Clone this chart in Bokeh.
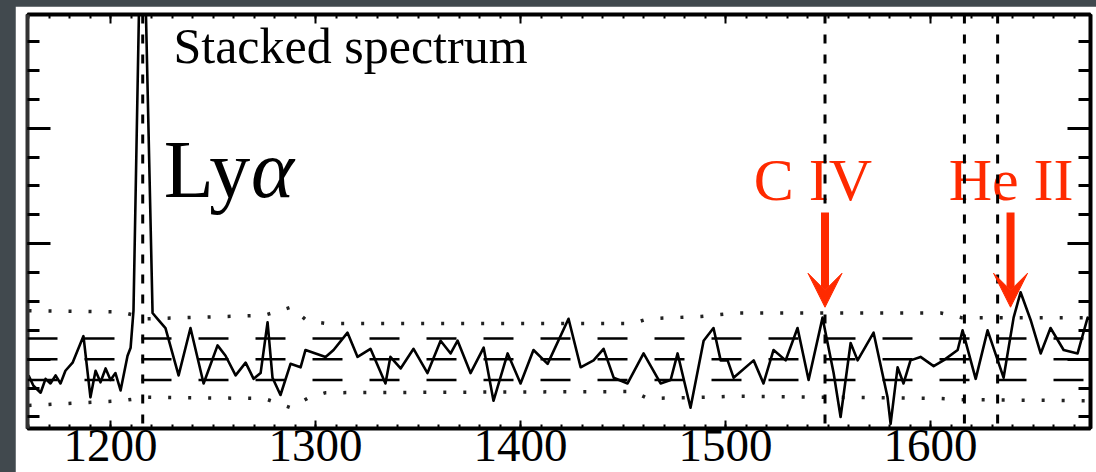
from bokeh.plotting import figure
from bokeh.models import (Range1d, LinearAxis, SingleIntervalTicker, CustomJSTickFormatter,
                          Arrow, VeeHead, Span)
from bokeh.core.properties import value
from bokeh.embed import file_html
from bokeh.resources import INLINE

# ---------------- data ----------------
wave = [1160.0, 1162.4, 1165.9, 1168.3, 1170.7, 1173.2, 1175.6, 1178.0, 1181.5, 1186.8,
        1190.2, 1192.7, 1195.1, 1197.6, 1200.0, 1202.4, 1204.9, 1208.3, 1209.8, 1211.2,
        1215.4, 1220.5, 1222.9, 1226.8, 1233.2, 1239.0, 1245.4, 1252.2, 1256.1, 1261.0,
        1265.9, 1269.8, 1273.2, 1276.6, 1279.0, 1282.9, 1287.8, 1292.7, 1295.1, 1300.0,
        1304.9, 1308.8, 1315.6, 1320.5, 1326.8, 1334.1, 1336.5, 1341.5, 1347.8, 1354.6,
        1361.0, 1365.9, 1369.3, 1375.6, 1382.0, 1386.8, 1393.7, 1400.0, 1406.3, 1413.2,
        1423.4, 1429.3, 1435.6, 1440.5, 1445.4, 1452.2, 1460.0, 1468.3, 1473.2, 1476.6,
        1482.9, 1489.3, 1494.1, 1497.6, 1501.0, 1503.9, 1513.7, 1518.5, 1523.4, 1529.3,
        1535.1, 1540.5, 1547.3, 1552.7, 1556.1, 1561.0, 1564.4, 1572.2, 1579.0, 1580.5,
        1583.9, 1586.8, 1590.2, 1595.1, 1601.5, 1606.3, 1613.2, 1615.6, 1622.0, 1627.8,
        1635.6, 1640.5, 1643.9, 1648.8, 1653.7, 1658.5, 1664.9, 1671.7, 1676.6, 1679.0]
flux = [-0.14, -0.23, -0.29, -0.17, -0.21, -0.14, -0.21, -0.10, -0.03, 0.20,
        -0.33, -0.10, -0.20, -0.08, -0.18, -0.12, -0.27, 0.03, 0.10, 0.42,
        4.50, 0.40, 0.35, 0.27, -0.14, 0.27, -0.21, 0.12, 0.03, -0.14,
        -0.03, -0.17, -0.12, 0.32, -0.16, -0.31, -0.04, -0.07, 0.08, 0.05,
        0.02, 0.08, 0.23, 0.02, 0.09, -0.21, 0.02, -0.08, 0.09, -0.12,
        0.16, 0.05, 0.16, -0.12, 0.10, -0.36, 0.05, -0.21, 0.08, -0.04,
        0.35, -0.07, -0.01, 0.09, -0.16, -0.21, 0.05, -0.21, -0.18, 0.05,
        -0.42, 0.16, 0.27, -0.01, -0.01, -0.16, -0.01, -0.21, 0.08, -0.01,
        0.27, -0.18, 0.36, -0.12, -0.50, 0.14, -0.01, 0.23, -0.33, -0.56,
        -0.07, -0.21, -0.01, 0.02, -0.06, -0.01, 0.08, 0.25, -0.17, 0.25,
        -0.16, 0.36, 0.58, 0.34, 0.05, 0.27, 0.08, 0.05, 0.36, 0.33]

sig_wave = [1160, 1205, 1218, 1275, 1288, 1296, 1305, 1455, 1462, 1488, 1505, 1605, 1615, 1678]
sig_hi = [0.42, 0.41, 0.35, 0.38, 0.45, 0.33, 0.31, 0.31, 0.35, 0.37, 0.40, 0.40, 0.36, 0.36]
sig_lo = [-0.40, -0.36, -0.33, -0.34, -0.42, -0.34, -0.29, -0.28, -0.34, -0.33, -0.32, -0.34, -0.35, -0.36]

levels = [0.18, 0.0, -0.18]                       # dashed horizontal levels
line_waves = [1215.7, 1548.5, 1616.5, 1632.7]     # dashed vertical line positions
arrow_waves = [1548.5, 1639.0]
arrow_labels = ["C IV", "He II"]
x_ticks_major = 100

RED = "#ff2a00"
FONT = "Liberation Serif"

p = figure(width=1081, height=466, output_backend="svg", toolbar_location=None,
           x_range=Range1d(1159.5, 1678.0), y_range=Range1d(-0.6, 2.985),
           min_border_left=12, min_border_right=6, min_border_top=8, min_border_bottom=44,
           background_fill_color="white", border_fill_color="white",
           outline_line_color="black", outline_line_width=3)
p.grid.visible = False
p.axis.visible = False

xt = SingleIntervalTicker(interval=x_ticks_major, num_minor_ticks=10)
yt = SingleIntervalTicker(interval=1, num_minor_ticks=4)
empty = CustomJSTickFormatter(code="return ''")

bottom = LinearAxis(ticker=xt, major_tick_in=8, major_tick_out=0, minor_tick_in=4, minor_tick_out=0,
                    axis_line_width=4, major_tick_line_width=2, minor_tick_line_width=2,
                    major_label_text_font=FONT, major_label_text_font_size="47px",
                    major_label_text_color="black", major_label_standoff=1)
top = LinearAxis(ticker=xt, formatter=empty, major_tick_in=9, major_tick_out=0, minor_tick_in=4,
                 minor_tick_out=0, axis_line_width=4, major_tick_line_width=2, minor_tick_line_width=2,
                 major_label_text_font_size="0px", major_label_standoff=0)
left = LinearAxis(ticker=yt, formatter=empty, major_tick_in=23, major_tick_out=0, minor_tick_in=12,
                  minor_tick_out=0, axis_line_width=4, axis_line_color="#333333",
                  major_tick_line_width=3, minor_tick_line_width=3,
                  major_label_text_font_size="0px", major_label_standoff=0)
right = LinearAxis(ticker=yt, formatter=empty, major_tick_in=23, major_tick_out=0, minor_tick_in=12,
                   minor_tick_out=0, axis_line_width=4, major_tick_line_width=3, minor_tick_line_width=3,
                   major_label_text_font_size="0px", major_label_standoff=0)
p.add_layout(bottom, "below")
p.add_layout(top, "above")
p.add_layout(left, "left")
p.add_layout(right, "right")

# dotted noise envelopes
p.line(sig_wave, sig_hi, line_color="#222222", line_width=3.5, line_dash="3 17")
p.line(sig_wave, sig_lo, line_color="#222222", line_width=3.5, line_dash="3 17")

# dashed horizontal levels
for lv in levels:
    p.add_layout(Span(location=lv, dimension="width", line_color="black", line_width=2.5,
                      line_dash="30 27"))

# spectrum
p.line(wave, flux, line_color="black", line_width=2.6, line_join="round")

# dashed vertical lines
for lw in line_waves:
    p.add_layout(Span(location=lw, dimension="height", line_color="black", line_width=3,
                      line_dash="9 11"))

# texts (y placed so that the rendered baseline matches the reference)
p.text(x=[1230.7], y=[2.708], text=["Stacked spectrum"], text_font=value(FONT),
       text_font_size="50px", text_color="black", text_baseline="alphabetic", text_align="left")
p.text(x=[1225.9], y=[1.644], text=["Ly"], text_font=value(FONT),
       text_font_size="82px", text_color="black", text_baseline="alphabetic", text_align="left")
p.text(x=[1268.5], y=[1.644], text=["α"], text_font=value(FONT), text_font_style="italic",
       text_font_size="82px", text_color="black", text_baseline="alphabetic", text_align="left")
p.text(x=[1513.7, 1608.8], y=[1.555, 1.555], text=arrow_labels, text_font=value(FONT),
       text_font_size="60px", text_color=RED, text_baseline="alphabetic", text_align="left")

for aw in arrow_waves:
    p.add_layout(Arrow(end=VeeHead(size=34, fill_color=RED, line_color=RED, line_width=1),
                       x_start=aw, y_start=1.27, x_end=aw, y_end=0.45,
                       line_color=RED, line_width=8))

html = file_html(p, INLINE)
html = html.replace("</head>",
                    "<style>html{overflow:hidden;background:#41494e}"
                    "body{margin:6px 0 0 15px;background:#41494e}</style></head>", 1)
open("out.html", "w").write(html)
